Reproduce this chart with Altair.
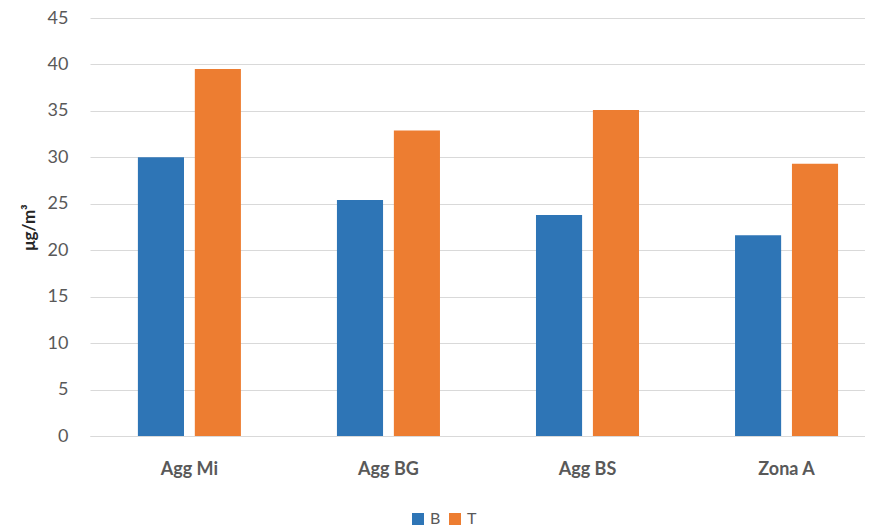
import altair as alt
import pandas as pd

categories = ["Agg Mi", "Agg BG", "Agg BS", "Zona A"]
series_b = [30.0, 25.4, 23.8, 21.6]
series_t = [39.5, 32.9, 35.1, 29.3]
series_names = ["B", "T"]
colors = ["#2E75B6", "#ED7D31"]

rows = []
for c, b, t in zip(categories, series_b, series_t):
    rows.append({"cat": c, "serie": "B", "val": b})
    rows.append({"cat": c, "serie": "T", "val": t})
df = pd.DataFrame(rows)

FONT = "Lato"
GREY = "#595959"

chart = alt.Chart(df).mark_bar().encode(
    x=alt.X("cat:N", sort=categories, title=None,
            scale=alt.Scale(paddingInner=0.4824, paddingOuter=0.188, align=0.64),
            axis=alt.Axis(labelAngle=0, labelFontWeight="bold", labelFontSize=18,
                          labelColor=GREY, labelFont=FONT, ticks=False,
                          domainColor="#D9D9D9", labelPadding=24)),
    xOffset=alt.XOffset("serie:N", sort=series_names,
                        scale=alt.Scale(paddingInner=0.19, paddingOuter=0)),
    y=alt.Y("val:Q", title="μg/m³",
            scale=alt.Scale(domain=[0, 45], nice=False),
            axis=alt.Axis(values=list(range(0, 46, 5)), labelFontSize=18,
                          labelColor=GREY, labelFont=FONT, ticks=False, domain=False,
                          gridColor="#D9D9D9", labelPadding=22,
                          titleFont=FONT, titleFontSize=17, titleFontWeight="bold",
                          titleColor="#262626", titlePadding=9)),
    color=alt.Color("serie:N", sort=series_names,
                    scale=alt.Scale(domain=series_names, range=colors),
                    legend=alt.Legend(title=None, orient="none", direction="horizontal",
                                      legendX=320, legendY=493, symbolType="square",
                                      symbolSize=144, labelFontSize=16, labelColor=GREY,
                                      labelFont=FONT, columnPadding=6, labelOffset=4,
                                      symbolStrokeWidth=0, padding=0)),
).properties(
    width=775, height=418,
    autosize=alt.AutoSizeParams(type="none"),
    padding={"left": 82, "top": 10, "right": 0, "bottom": 92},
).configure_view(stroke=None)

chart.save("out.html", embed_options={"renderer": "svg", "actions": False})
